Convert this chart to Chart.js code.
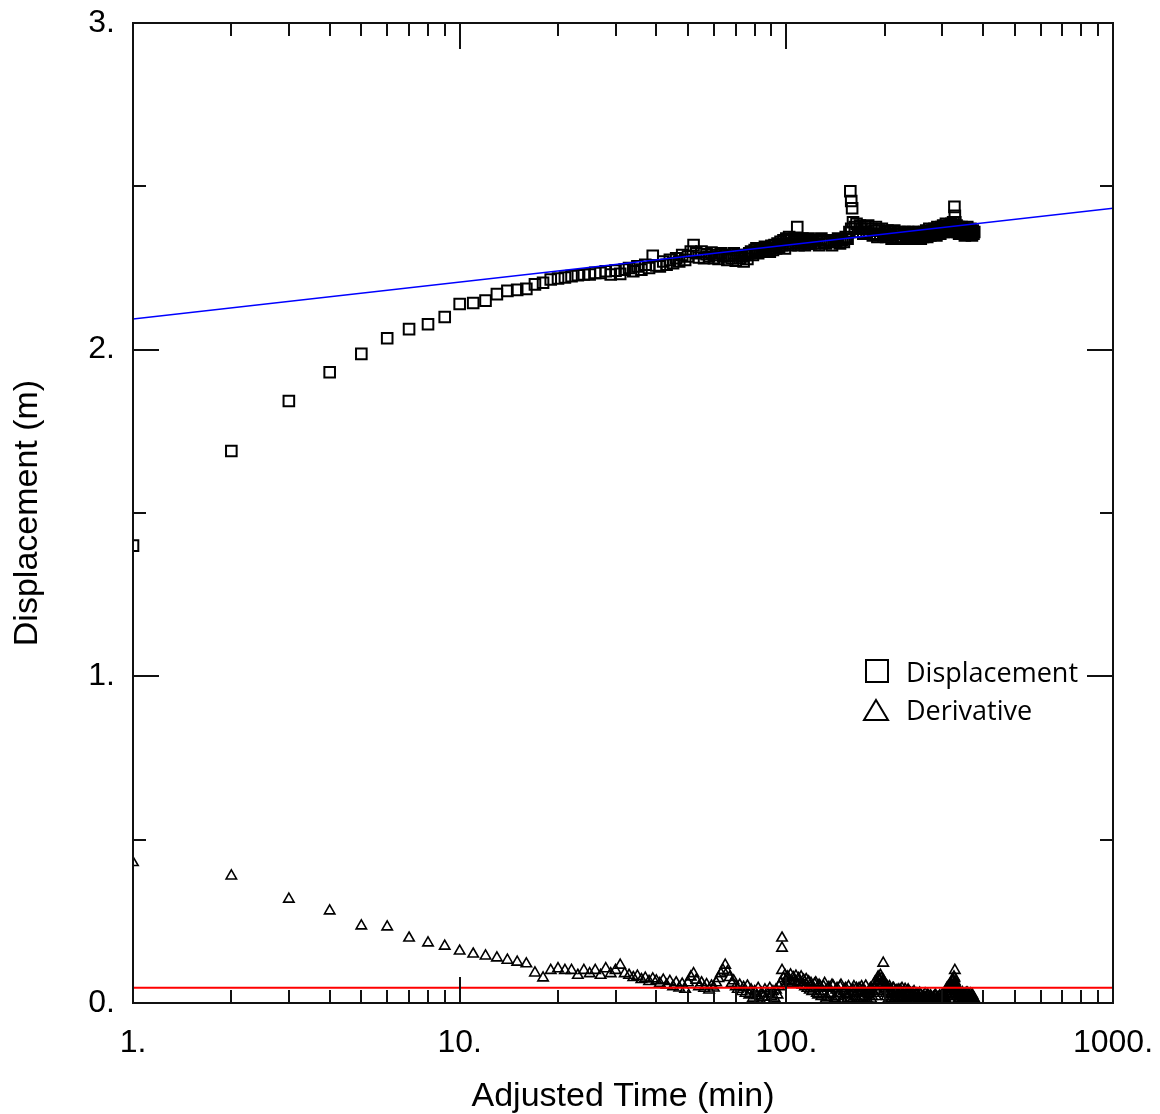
<!DOCTYPE html>
<html lang="en">
<head>
    <meta charset="UTF-8">
    <title>Displacement vs Adjusted Time</title>
    <script src="https://cdn.jsdelivr.net/npm/chart.js@4.4.0/dist/chart.umd.min.js"></script>
    <style>
        body {
            margin: 0;
            background: #fff;
        }
        #wrap {
            width: 1160px;
            height: 1114px;
        }
    </style>
</head>
<body>
    <div id="wrap">
        <canvas id="plot" width="1160" height="1114"></canvas>
    </div>

    <script>
        // Sample times (min), shared by both series
        const time = [
            1, 2, 3, 4, 5, 6, 7, 8, 9, 10, 11, 12, 13, 14, 15, 16, 17, 18, 19, 20,
            21, 22, 23, 24, 25, 26, 27, 28, 29, 30, 31, 32, 33, 34, 35, 36, 37, 38, 39, 40,
            41, 42, 43, 44, 45, 46, 47, 48, 49, 50, 51, 52, 53, 54, 55, 56, 57, 58, 59, 60,
            61, 62, 63, 64, 65, 66, 67, 68, 69, 70, 71, 72, 73, 74, 75, 76, 77, 78, 79, 80,
            81, 82, 83, 84, 85, 86, 87, 88, 89, 90, 91, 92, 93, 94, 95, 96, 97, 98, 99, 100,
            101, 102, 103, 104, 105, 106, 107, 108, 109, 110, 111, 112, 113, 114, 115, 116, 117, 118, 119, 120,
            122, 124, 126, 128, 130, 132, 134, 136, 138, 140,
            142, 144, 146, 148, 150, 152, 154, 156, 158, 160,
            162, 164, 166, 168, 170, 172, 174, 176, 178, 180,
            182, 184, 186, 188, 190, 192, 194, 196, 198, 200,
            202, 204, 206, 208, 210, 212, 214, 216, 218, 220,
            222, 224, 226, 228, 230, 232, 234, 236, 238, 240,
            242, 244, 246, 248, 250, 252, 254, 256, 258, 260,
            262, 264, 266, 268, 270, 272, 274, 276, 278, 280,
            282, 284, 286, 288, 290, 292, 294, 296, 298, 300,
            302, 304, 306, 308, 310, 312, 314, 316, 318, 320,
            322, 324, 326, 328, 330, 332, 334, 336, 338, 340,
            342, 344, 346, 348, 350, 352, 354, 356, 358, 360,
            362, 364, 366, 368, 370, 372, 374, 376
        ];

        // Displacement (m)
        const dispValue = [
            1.40, 1.69, 1.843, 1.931, 1.987, 2.035, 2.063, 2.078, 2.10, 2.14,
            2.143, 2.15, 2.17, 2.18, 2.183, 2.186, 2.20, 2.205, 2.215, 2.218,
            2.221, 2.225, 2.228, 2.23, 2.23, 2.235,
            2.235, 2.24, 2.23, 2.242, 2.232, 2.245, 2.25, 2.24, 2.255, 2.245,
            2.26, 2.25, 2.287, 2.258, 2.255, 2.27, 2.26, 2.275, 2.265, 2.28,
            2.27, 2.29, 2.275, 2.285, 2.30, 2.32, 2.295, 2.282, 2.30, 2.28,
            2.292, 2.285, 2.297, 2.28, 2.29, 2.278, 2.295, 2.285, 2.29, 2.275,
            2.288, 2.28, 2.295, 2.272, 2.29, 2.28, 2.285, 2.27, 2.29, 2.278,
            2.295, 2.30, 2.29, 2.305, 2.31, 2.295, 2.305, 2.31, 2.30, 2.315,
            2.305, 2.31, 2.30, 2.318, 2.305, 2.32, 2.31, 2.325, 2.315, 2.33,
            2.32, 2.335, 2.31, 2.34, 2.325, 2.345, 2.32, 2.335, 2.325, 2.34,
            2.33, 2.375, 2.32, 2.335, 2.325, 2.34, 2.33, 2.32, 2.335, 2.325,
            2.34, 2.33, 2.325, 2.335,
            2.325, 2.335, 2.32, 2.34, 2.33, 2.325, 2.335, 2.33, 2.32, 2.335,
            2.33, 2.34, 2.325, 2.335, 2.33, 2.345, 2.34, 2.36, 2.37, 2.39,
            2.375, 2.385, 2.36, 2.38, 2.37, 2.355, 2.375, 2.36, 2.38, 2.355,
            2.37, 2.35, 2.365, 2.375, 2.345, 2.365, 2.355, 2.37, 2.35, 2.36,
            2.345, 2.365, 2.35, 2.36, 2.34, 2.355, 2.365, 2.345, 2.355, 2.34,
            2.36, 2.345, 2.355, 2.34, 2.36, 2.35, 2.345, 2.36, 2.34, 2.355,
            2.345, 2.36, 2.35, 2.34, 2.355, 2.345, 2.36, 2.35, 2.34, 2.355,
            2.345, 2.36, 2.35, 2.365, 2.345, 2.355, 2.37, 2.35, 2.36, 2.365,
            2.355, 2.37, 2.36, 2.35, 2.375, 2.36, 2.37, 2.355, 2.375, 2.365,
            2.38, 2.36, 2.37, 2.385, 2.365, 2.375, 2.36, 2.38, 2.37, 2.385,
            2.375, 2.39, 2.38, 2.37, 2.365, 2.38, 2.36, 2.375, 2.355, 2.37,
            2.36, 2.375, 2.355, 2.37, 2.36, 2.35, 2.37, 2.36, 2.375, 2.355,
            2.365, 2.355, 2.37, 2.36, 2.35, 2.365, 2.355, 2.36
        ];
        // stray high displacement readings
        const dispExtraTime = [157, 158, 159, 327, 328, 329];
        const dispExtraValue = [2.485, 2.455, 2.433, 2.437, 2.41, 2.39];

        // Derivative
        const derivValue = [
            0.43, 0.389, 0.318, 0.282, 0.236, 0.233, 0.199, 0.184, 0.174, 0.159,
            0.15, 0.144, 0.138, 0.131, 0.125, 0.12, 0.092, 0.077, 0.10, 0.105,
            0.10, 0.10, 0.085, 0.10, 0.09, 0.10,
            0.085, 0.105, 0.09, 0.10, 0.116, 0.09, 0.085, 0.078, 0.082, 0.072,
            0.076, 0.066, 0.074, 0.068, 0.06, 0.07, 0.055, 0.066, 0.05, 0.062,
            0.046, 0.058, 0.042, 0.062, 0.08, 0.09, 0.07, 0.05, 0.062, 0.045,
            0.056, 0.04, 0.052, 0.046, 0.062, 0.075, 0.09, 0.10, 0.116, 0.095,
            0.078, 0.06, 0.068, 0.05, 0.042, 0.055, 0.035, 0.048, 0.03, 0.052,
            0.025, 0.04, 0.015, 0.035, 0.022, 0.045, 0.012, 0.03, 0.018, 0.04,
            0.01, 0.028, 0.045, 0.02, 0.035, 0.015, 0.04, 0.025, 0.05, 0.06,
            0.10, 0.075, 0.085, 0.065, 0.08, 0.07, 0.086, 0.06, 0.078, 0.065,
            0.082, 0.058, 0.075, 0.062, 0.08, 0.055, 0.07, 0.05, 0.072, 0.045,
            0.065, 0.04, 0.06, 0.035,
            0.058, 0.03, 0.055, 0.02, 0.05, 0.012, 0.045, 0.025, 0.055, 0.008,
            0.04, 0.02, 0.05, 0.01, 0.035, 0.045, 0.015, 0.03, 0.005, 0.04,
            0.02, 0.045, 0.01, 0.03, 0.05, 0.015, 0.035, 0.005, 0.025, 0.04,
            0.012, 0.035, 0.05, 0.02, 0.06, 0.07, 0.085, 0.055, 0.07, 0.045,
            0.03, 0.05, 0.015, 0.04, 0.025, 0.045, 0.01, 0.035, 0.02, 0.04,
            0.008, 0.03, 0.045, 0.015, 0.035, 0.005, 0.025, 0.04, 0.012, 0.03,
            0.005, 0.02, 0.035, 0.01, 0.025, 0.004, 0.018, 0.03, 0.008, 0.02,
            0.004, 0.015, 0.028, 0.006, 0.02, 0.01, 0.004, 0.022, 0.012, 0.005,
            0.018, 0.008, 0.025, 0.004, 0.015, 0.01, 0.02, 0.005, 0.014, 0.025,
            0.006, 0.018, 0.01, 0.03, 0.045, 0.02, 0.04, 0.055, 0.03, 0.05,
            0.065, 0.045, 0.08, 0.065, 0.05, 0.035, 0.02, 0.03, 0.012, 0.025,
            0.005, 0.02, 0.032, 0.01, 0.025, 0.004, 0.018, 0.03, 0.008, 0.02,
            0.004, 0.015, 0.028, 0.006, 0.02, 0.01, 0.004, 0.012
        ];
        // derivative at the odd minutes after 120
        const derivOddTime = [
            121, 123, 125, 127, 129, 131, 133, 135, 137, 139,
            141, 143, 145, 147, 149, 151, 153, 155, 157, 159,
            161, 163, 165, 167, 169, 171, 173, 175, 177, 179,
            181, 183, 185, 187, 189, 191, 193, 195, 197, 199,
            201, 203, 205, 207, 209, 211, 213, 215, 217, 219,
            221, 223, 225, 227, 229, 231, 233, 235, 237, 239,
            241, 243, 245, 247, 249, 251, 253, 255, 257, 259,
            261, 263, 265, 267, 269, 271, 273, 275, 277, 279,
            281, 283, 285, 287, 289, 291, 293, 295, 297, 299,
            301, 303, 305, 307, 309, 311, 313, 315, 317, 319,
            321, 323, 325, 327, 329, 331, 333, 335, 337, 339,
            341, 343, 345, 347, 349, 351, 353, 355, 357, 359,
            361, 363, 365, 367, 369, 371, 373, 375
        ];
        const derivOddValue = [
            0.045, 0.062, 0.025, 0.05, 0.035, 0.06, 0.018, 0.048, 0.03, 0.052,
            0.015, 0.045, 0.03, 0.055, 0.008, 0.04, 0.025, 0.05, 0.012, 0.035,
            0.05, 0.005, 0.03, 0.045, 0.015, 0.04, 0.02, 0.052, 0.01, 0.03,
            0.045, 0.02, 0.03, 0.065, 0.04, 0.08, 0.05, 0.075, 0.06, 0.035,
            0.055, 0.02, 0.035, 0.05, 0.01, 0.03, 0.045, 0.015, 0.038, 0.005,
            0.025, 0.04, 0.01, 0.03, 0.018, 0.042, 0.008, 0.022, 0.035, 0.004,
            0.018, 0.03, 0.006, 0.022, 0.012, 0.028, 0.004, 0.015, 0.025, 0.006,
            0.012, 0.02, 0.004, 0.016, 0.008, 0.025, 0.003, 0.014, 0.02, 0.006,
            0.012, 0.004, 0.02, 0.01, 0.003, 0.016, 0.008, 0.022, 0.004, 0.012,
            0.02, 0.008, 0.025, 0.014, 0.035, 0.025, 0.05, 0.035, 0.045, 0.06,
            0.05, 0.07, 0.055, 0.075, 0.06, 0.04, 0.025, 0.04, 0.015, 0.03,
            0.02, 0.008, 0.025, 0.015, 0.004, 0.02, 0.028, 0.006, 0.015, 0.03,
            0.01, 0.022, 0.005, 0.018, 0.012, 0.025, 0.008, 0.015
        ];
        const derivExtraTime = [97, 97, 198, 328];
        const derivExtraValue = [0.199, 0.168, 0.122, 0.10];

        // Straight-line fits (endpoints)
        const fitTime = [1, 1000];
        const fitDisp = [2.094, 2.433];
        const fitDeriv = [0.047, 0.047];

        // Axis ticks
        const xTickValues = [1, 10, 100, 1000];
        const xTickLabels = ['1.', '10.', '100.', '1000.'];
        const yTickValues = [0, 1, 2, 3];
        const yTickLabels = ['0.', '1.', '2.', '3.'];
        const yMinorTicks = [0.5, 1.5, 2.5];

        const legendLabels = ['Displacement', 'Derivative'];

        function pairs(xs, ys) {
            return xs.map((x, i) => ({ x: x, y: ys[i] }));
        }

        // no extra room for overhanging tick labels
        function fixScale(s, size) {
            if (s.isHorizontal()) s.height = size; else s.width = size;
            s.paddingTop = 0;
            s.paddingBottom = 0;
            s.paddingLeft = 0;
            s.paddingRight = 0;
        }

        // Frame plus inward tick marks on all four sides, and the legend
        const framePlugin = {
            id: 'frame',
            afterDatasetsDraw(chart) {
                const { ctx, chartArea: a, scales } = chart;
                const xs = scales.x, ys = scales.y;
                const major = 26, minor = 13;
                ctx.save();
                ctx.strokeStyle = '#111';
                ctx.lineWidth = 2;
                ctx.beginPath();
                for (let d = 1; d < 1000; d *= 10) {
                    for (let k = 1; k <= 10; k++) {
                        const v = d * k;
                        const px = Math.round(xs.getPixelForValue(v));
                        const len = (k === 1 || k === 10) ? major : minor;
                        ctx.moveTo(px, a.bottom);
                        ctx.lineTo(px, a.bottom - len);
                        ctx.moveTo(px, a.top);
                        ctx.lineTo(px, a.top + len);
                    }
                }
                yTickValues.forEach(v => {
                    const py = Math.round(ys.getPixelForValue(v));
                    ctx.moveTo(a.left, py);
                    ctx.lineTo(a.left + major, py);
                    ctx.moveTo(a.right, py);
                    ctx.lineTo(a.right - major, py);
                });
                yMinorTicks.forEach(v => {
                    const py = Math.round(ys.getPixelForValue(v));
                    ctx.moveTo(a.left, py);
                    ctx.lineTo(a.left + minor, py);
                    ctx.moveTo(a.right, py);
                    ctx.lineTo(a.right - minor, py);
                });
                ctx.stroke();
                ctx.strokeRect(a.left, a.top, a.right - a.left, a.bottom - a.top);

                // legend inside the plot
                ctx.strokeStyle = '#000';
                ctx.strokeRect(866, 660, 22, 22);
                ctx.beginPath();
                ctx.moveTo(876, 700);
                ctx.lineTo(888, 720);
                ctx.lineTo(864, 720);
                ctx.closePath();
                ctx.stroke();
                ctx.fillStyle = '#000';
                ctx.font = '27px "Open Sans"';
                ctx.textBaseline = 'alphabetic';
                ctx.textAlign = 'left';
                ctx.fillText(legendLabels[0], 906, 682);
                ctx.fillText(legendLabels[1], 906, 720);
                ctx.restore();
            }
        };

        const squareStyle = {
            pointStyle: 'rect',
            pointRadius: 7.5,
            borderWidth: 2,
            borderColor: '#000',
            backgroundColor: 'rgba(0,0,0,0)',
            clip: 0,
            order: 2
        };
        const triangleStyle = {
            pointStyle: 'triangle',
            pointRadius: 6,
            borderWidth: 1.6,
            borderColor: '#000',
            backgroundColor: 'rgba(0,0,0,0)',
            clip: 0,
            order: 2
        };

        const ctx = document.getElementById('plot').getContext('2d');
        new Chart(ctx, {
            type: 'scatter',
            data: {
                datasets: [
                    Object.assign({ label: legendLabels[0], data: pairs(time, dispValue) }, squareStyle),
                    Object.assign({ label: legendLabels[0] + ' extra', data: pairs(dispExtraTime, dispExtraValue) }, squareStyle),
                    Object.assign({ label: legendLabels[1], data: pairs(time, derivValue) }, triangleStyle),
                    Object.assign({ label: legendLabels[1] + ' odd', data: pairs(derivOddTime, derivOddValue) }, triangleStyle),
                    Object.assign({ label: legendLabels[1] + ' extra', data: pairs(derivExtraTime, derivExtraValue) }, triangleStyle),
                    {
                        type: 'line',
                        label: 'fit',
                        data: pairs(fitTime, fitDisp),
                        borderColor: '#0000ff',
                        borderWidth: 1.5,
                        pointRadius: 0,
                        clip: 0,
                        order: 1
                    },
                    {
                        type: 'line',
                        label: 'deriv fit',
                        data: pairs(fitTime, fitDeriv),
                        borderColor: '#ff0000',
                        borderWidth: 2,
                        pointRadius: 0,
                        clip: 0,
                        order: 1
                    }
                ]
            },
            options: {
                responsive: false,
                animation: false,
                layout: {
                    padding: { top: 23, right: 47, left: 0, bottom: 0 }
                },
                plugins: {
                    legend: { display: false },
                    tooltip: { enabled: false }
                },
                scales: {
                    x: {
                        type: 'logarithmic',
                        min: 1,
                        max: 1000,
                        grid: { display: false, drawTicks: false },
                        border: { display: false },
                        afterBuildTicks: s => { s.ticks = xTickValues.map(v => ({ value: v })); },
                        afterFit: s => fixScale(s, 111),
                        ticks: {
                            autoSkip: false,
                            maxRotation: 0,
                            padding: 21,
                            color: '#000',
                            font: { family: 'Liberation Sans', size: 32 },
                            callback: (v) => xTickLabels[xTickValues.indexOf(v)]
                        },
                        title: {
                            display: true,
                            text: 'Adjusted Time (min)',
                            color: '#000',
                            font: { family: 'Liberation Sans', size: 34, lineHeight: 1 },
                            padding: { top: 0, bottom: 0 }
                        }
                    },
                    y: {
                        min: 0,
                        max: 3,
                        grid: { display: false, drawTicks: false },
                        border: { display: false },
                        afterBuildTicks: s => { s.ticks = yTickValues.map(v => ({ value: v })); },
                        afterFit: s => fixScale(s, 133),
                        ticks: {
                            padding: 18,
                            color: '#000',
                            font: { family: 'Liberation Sans', size: 32 },
                            callback: (v) => yTickLabels[yTickValues.indexOf(v)]
                        },
                        title: {
                            display: true,
                            text: 'Displacement (m)',
                            color: '#000',
                            font: { family: 'Liberation Sans', size: 34, lineHeight: 1 },
                            padding: { top: 11, bottom: 0 }
                        }
                    }
                }
            },
            plugins: [framePlugin]
        });
    </script>
</body>
</html>
